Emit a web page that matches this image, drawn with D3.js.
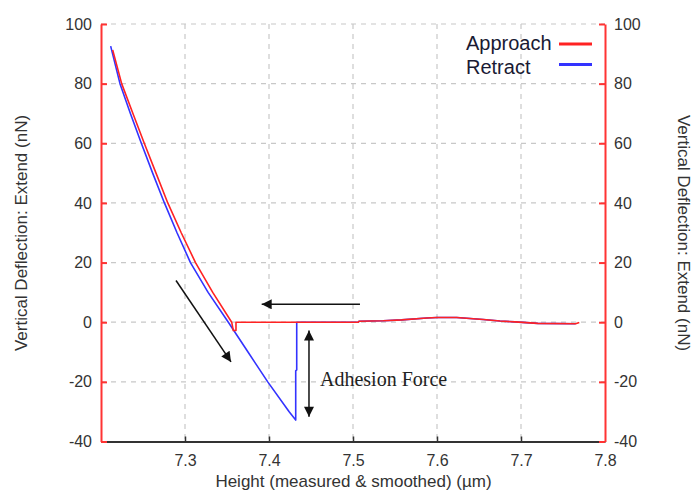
<!DOCTYPE html>
<html>
<head>
<meta charset="utf-8">
<script src="https://cdn.jsdelivr.net/npm/d3@7"></script>
<style>
  html, body { margin: 0; padding: 0; background: #fff; }
  svg { display: block; }
</style>
</head>
<body>
<svg id="chart" width="696" height="491"></svg>
<script>
// ---- data (height in µm, deflection in nN) ----
const approachX = [7.2139, 7.2246, 7.2380, 7.2515, 7.2655, 7.2795, 7.2955, 7.3125, 7.3330, 7.3556, 7.3575, 7.3607, 7.3607, 7.5064, 7.5070, 7.5360, 7.5580, 7.5880, 7.6000, 7.6234, 7.6550, 7.6750, 7.6930, 7.7200, 7.7650, 7.7694];
const approachY = [91.3, 80, 70, 60, 50, 40, 30, 20, 10, 0, -2.8, -2.8, 0, 0, 0.3, 0.5, 0.8, 1.4, 1.6, 1.6, 0.9, 0.4, 0.1, -0.4, -0.5, -0.1];
const retractX = [7.2115, 7.2226, 7.2350, 7.2480, 7.2615, 7.2755, 7.2905, 7.3065, 7.3275, 7.3516, 7.3750, 7.3985, 7.4240, 7.4318, 7.4318, 7.4330, 7.4330, 7.5064, 7.5070, 7.5360, 7.5580, 7.5880, 7.6000, 7.6234, 7.6550, 7.6750, 7.6930, 7.7200, 7.7650];
const retractY = [92.6, 80, 70, 60, 50, 40, 30, 20, 10, 0, -10, -20, -30, -32.8, -16.3, -16.0, 0, 0, 0.3, 0.5, 0.8, 1.4, 1.6, 1.6, 0.9, 0.4, 0.1, -0.4, -0.5];

const xTicks = [7.3, 7.4, 7.5, 7.6, 7.7, 7.8];
const xGrid = [7.3, 7.4, 7.5, 7.6, 7.7];
const yTicks = [-40, -20, 0, 20, 40, 60, 80, 100];
const yGrid = [-20, 0, 20, 40, 60, 80, 100];

const seriesNames = ["Approach", "Retract"];
const seriesColors = ["#ff2222", "#3333ff"];

// annotations (data coordinates)
const diagArrow = [[7.2893, 14.0], [7.3548, -13.3]];
const leftArrow = [[7.5083, 6.0], [7.3913, 6.0]];
const adhesionArrow = [[7.4476, -2.8], [7.4476, -31.7]];
const adhesionLabel = { x: 7.4476, y: -19.2, text: "Adhesion Force" };

// ---- layout ----
const svg = d3.select("#chart");
const x = d3.scaleLinear().domain([7.2, 7.8]).range([101, 605]);
const y = d3.scaleLinear().domain([-40, 100]).range([441.5, 24]);

// grid
const grid = svg.append("g").attr("stroke", "#c8c8c8").attr("stroke-width", 1.2).attr("stroke-dasharray", "5,5");
grid.selectAll("line.h").data(yGrid).join("line").attr("class", "h")
  .attr("x1", x(7.2)).attr("x2", x(7.8)).attr("y1", d => y(d)).attr("y2", d => y(d));
grid.selectAll("line.v").data(xGrid).join("line").attr("class", "v")
  .attr("y1", y(100)).attr("y2", y(-40)).attr("x1", d => x(d)).attr("x2", d => x(d));

// series
const line = d3.line().x(d => x(d[0])).y(d => y(d[1]));
const retract = retractX.map((v, i) => [v, retractY[i]]);
const approach = approachX.map((v, i) => [v, approachY[i]]);
svg.append("path").datum(retract).attr("d", line).attr("fill", "none")
  .attr("stroke", seriesColors[1]).attr("stroke-width", 1.6).attr("stroke-linejoin", "round");
svg.append("path").datum(approach).attr("d", line).attr("fill", "none")
  .attr("stroke", seriesColors[0]).attr("stroke-width", 1.6).attr("stroke-linejoin", "round");

// axes
const fontSans = "Liberation Sans, Arial, sans-serif";
const yFmt = d => String(d);  // plain hyphen-minus as in the original
const leftAxis = svg.append("g").attr("transform", `translate(${x(7.2)},0)`)
  .call(d3.axisLeft(y).tickValues(yTicks).tickFormat(yFmt).tickSizeInner(-6).tickSizeOuter(0).tickPadding(9));
const rightAxis = svg.append("g").attr("transform", `translate(${x(7.8)},0)`)
  .call(d3.axisRight(y).tickValues(yTicks).tickFormat(yFmt).tickSizeInner(-6).tickSizeOuter(0).tickPadding(9));
[leftAxis, rightAxis].forEach(g => {
  g.select(".domain").attr("stroke", "#ff3333").attr("stroke-width", 2);
  g.selectAll(".tick line").attr("stroke", "#ff3333").attr("stroke-width", 2);
});
const bottomAxis = svg.append("g").attr("transform", `translate(0,${y(-40)})`)
  .call(d3.axisBottom(x).tickValues(xTicks).tickFormat(d3.format(".1f")).tickSizeInner(-5).tickSizeOuter(0).tickPadding(13.5));
bottomAxis.select(".domain").attr("stroke", "#333").attr("stroke-width", 2);
bottomAxis.selectAll(".tick line").attr("stroke", "#333").attr("stroke-width", 1.5)
  .attr("display", d => d === 7.8 ? "none" : null);
leftAxis.raise(); rightAxis.raise();
svg.selectAll(".tick text").attr("font-family", fontSans).attr("font-size", 16).attr("fill", "#333");

// axis titles
svg.append("text").attr("transform", `translate(27,${233}) rotate(-90)`).attr("text-anchor", "middle")
  .attr("font-family", fontSans).attr("font-size", 17).attr("fill", "#333")
  .text("Vertical Deflection: Extend (nN)");
svg.append("text").attr("transform", `translate(678,${233}) rotate(90)`).attr("text-anchor", "middle")
  .attr("font-family", fontSans).attr("font-size", 17).attr("fill", "#333")
  .text("Vertical Deflection: Extend (nN)");
svg.append("text").attr("x", 353.5).attr("y", 487).attr("text-anchor", "middle")
  .attr("font-family", fontSans).attr("font-size", 17).attr("fill", "#333")
  .text("Height (measured & smoothed) (µm)");

// legend
const legend = svg.append("g");
seriesNames.forEach((name, i) => {
  legend.append("text").attr("x", 466).attr("y", 49.5 + i * 24)
    .attr("font-family", fontSans).attr("font-size", 20).attr("fill", "#1a1a33").text(name);
  legend.append("line").attr("x1", 559).attr("x2", 592).attr("y1", 44 + i * 20.5).attr("y2", 44 + i * 20.5)
    .attr("stroke", seriesColors[i]).attr("stroke-width", 3);
});

// annotations
const defs = svg.append("defs");
defs.append("marker").attr("id", "ah").attr("viewBox", "0 0 10 10").attr("refX", 10).attr("refY", 5)
  .attr("markerWidth", 14).attr("markerHeight", 10).attr("markerUnits", "userSpaceOnUse")
  .attr("orient", "auto-start-reverse")
  .append("path").attr("d", "M0,0 L10,5 L0,10 Z").attr("fill", "#111");

function arrow(pts, both) {
  const p = svg.append("line")
    .attr("x1", x(pts[0][0])).attr("y1", y(pts[0][1]))
    .attr("x2", x(pts[1][0])).attr("y2", y(pts[1][1]))
    .attr("stroke", "#111").attr("stroke-width", 1.5)
    .attr("marker-end", "url(#ah)");
  if (both) p.attr("marker-start", "url(#ah)");
}
arrow(diagArrow, false);
arrow(leftArrow, false);
arrow(adhesionArrow, true);

svg.append("text").attr("x", x(adhesionLabel.x) + 11).attr("y", y(adhesionLabel.y) + 7)
  .attr("font-family", "Liberation Serif, Times New Roman, serif").attr("font-size", 20).attr("fill", "#222")
  .text(adhesionLabel.text);
</script>
</body>
</html>
